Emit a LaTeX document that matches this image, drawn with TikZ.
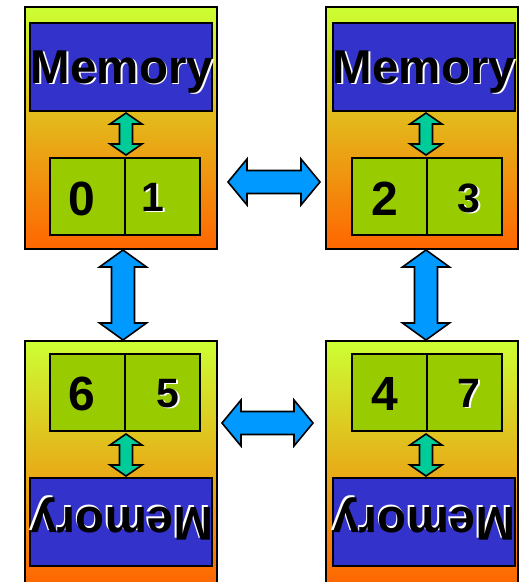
\documentclass[tikz,border=0pt]{standalone}
\usepackage{fontspec}
\setmainfont{Liberation Sans}
\usetikzlibrary{calc}

\definecolor{boxtop}{HTML}{CCFF33}
\definecolor{boxmid}{HTML}{E6C52A}
\definecolor{boxbot}{HTML}{FF6600}
\definecolor{memblue}{HTML}{3333CC}
\definecolor{cellgreen}{HTML}{99CC00}
\definecolor{busteal}{HTML}{00CC99}
\definecolor{linkblue}{HTML}{0099FF}

% horizontal double block arrow: left tip, right tip, head half-width, shaft half-width, head length, style
\newcommand\hblock[6]{%
  \filldraw[#6] let \p1=(#1), \p2=(#2) in
    (\p1) -- (\x1+#5,\y1+#3) -- (\x1+#5,\y1+#4) -- (\x2-#5,\y1+#4) -- (\x2-#5,\y1+#3)
    -- (\x2,\y1) -- (\x2-#5,\y1-#3) -- (\x2-#5,\y1-#4) -- (\x1+#5,\y1-#4) -- (\x1+#5,\y1-#3) -- cycle;}
% vertical double block arrow: upper tip, lower tip, head half-width, shaft half-width, head length, style
\newcommand\vblock[6]{%
  \filldraw[#6] let \p1=(#1), \p2=(#2) in
    (\p1) -- (\x1+#3,\y1-#5) -- (\x1+#4,\y1-#5) -- (\x1+#4,\y2+#5) -- (\x1+#3,\y2+#5)
    -- (\x1,\y2) -- (\x1-#3,\y2+#5) -- (\x1-#4,\y2+#5) -- (\x1-#4,\y1-#5) -- (\x1-#3,\y1-#5) -- cycle;}
% label with a white drop shadow, rotated by #4
\newcommand\shadowlabel[5]{%
  \begin{scope}[shift={(#1,#2)}, rotate=#4]
    \node[#5, white, anchor=base, rotate=#4] at (1.8,1.8) {#3};
    \node[#5, black, anchor=base, rotate=#4] at (0,0) {#3};
  \end{scope}}

\begin{document}
\begin{tikzpicture}[x=1pt, y=-1pt,
  gpu/.style={draw=black, line width=2pt, top color=boxtop, middle color=boxmid,
    bottom color=boxbot, inner sep=0pt, minimum width=192pt, minimum height=242pt},
  mem/.style={draw=black, line width=2pt, fill=memblue, inner sep=0pt,
    minimum width=182pt, minimum height=88pt},
  cell/.style={draw=black, line width=2pt, fill=cellgreen, inner sep=0pt,
    minimum width=75pt, minimum height=77pt},
  memtxt/.style={font=\fontsize{47.5}{50}\selectfont\bfseries, inner sep=0pt},
  evendigit/.style={font=\fontsize{48}{50}\selectfont\bfseries, inner sep=0pt},
  odddigit/.style={font=\fontsize{41}{44}\selectfont\bfseries, inner sep=0pt},
  busarrow/.style={draw=black, line width=1.6pt, fill=busteal, line join=miter},
  linkarrow/.style={draw=black, line width=1.6pt, fill=linkblue, line join=miter}]

\useasboundingbox (0,0) rectangle (519,582);
\clip (0,0) rectangle (519,582);

% four boards (the lower pair runs past the bottom edge)
\node[gpu] (g0) at (120.5,128) {};
\node[gpu] (g1) at (422,128) {};
\node[gpu] (g2) at (120.5,462) {};
\node[gpu] (g3) at (422,462) {};

% memory blocks
\node[mem] (m0) at (121,67) {};
\node[mem] (m1) at (423.5,67) {};
\node[mem] (m2) at (121,522) {};
\node[mem] (m3) at (423.5,522) {};

% processor cells
\node[cell] (c0) at (87.5,196.5) {};
\node[cell] (c1) at (162.5,196.5) {};
\node[cell] (c2) at (389.5,196.5) {};
\node[cell] (c3) at (464.5,196.5) {};
\node[cell] (c6) at (87.5,392.5) {};
\node[cell] (c5) at (162.5,392.5) {};
\node[cell] (c4) at (389.5,392.5) {};
\node[cell] (c7) at (464.5,392.5) {};

% memory labels
\shadowlabel{122}{83}{Memory}{0}{memtxt}
\shadowlabel{424}{83}{Memory}{0}{memtxt}
\shadowlabel{122}{507}{Memory}{180}{memtxt}
\shadowlabel{424}{507}{Memory}{180}{memtxt}

% cell numbers
\node[evendigit, anchor=base] (n0) at (82,215) {0};
\node[evendigit, anchor=base] (n2) at (385,215) {2};
\node[evendigit, anchor=base] (n6) at (82,410) {6};
\node[evendigit, anchor=base] (n4) at (385,410) {4};
\shadowlabel{153}{211}{1}{0}{odddigit}
\shadowlabel{469}{212}{3}{0}{odddigit}
\shadowlabel{168}{407}{5}{0}{odddigit}
\shadowlabel{469}{407}{7}{0}{odddigit}

% memory-to-cell buses
\coordinate (b0t) at (126,113); \coordinate (b0b) at (126,155);
\coordinate (b1t) at (426,113); \coordinate (b1b) at (426,155);
\coordinate (b2t) at (126,434); \coordinate (b2b) at (126,476);
\coordinate (b3t) at (426,434); \coordinate (b3b) at (426,476);
\vblock{b0t}{b0b}{16pt}{6.5pt}{11pt}{busarrow}
\vblock{b1t}{b1b}{16pt}{6.5pt}{11pt}{busarrow}
\vblock{b2t}{b2b}{16pt}{6.5pt}{11pt}{busarrow}
\vblock{b3t}{b3b}{16pt}{6.5pt}{11pt}{busarrow}

% links between boards
\coordinate (l01a) at (228,182); \coordinate (l01b) at (320,182);
\coordinate (l23a) at (222,423); \coordinate (l23b) at (313,423);
\coordinate (l02a) at (123,250); \coordinate (l02b) at (123,340);
\coordinate (l13a) at (426,250); \coordinate (l13b) at (426,340);
\hblock{l01a}{l01b}{23pt}{11.5pt}{19pt}{linkarrow}
\hblock{l23a}{l23b}{23pt}{11.5pt}{19pt}{linkarrow}
\vblock{l02a}{l02b}{23.5pt}{11.5pt}{17pt}{linkarrow}
\vblock{l13a}{l13b}{23.5pt}{11.5pt}{17pt}{linkarrow}

\end{tikzpicture}
\end{document}
